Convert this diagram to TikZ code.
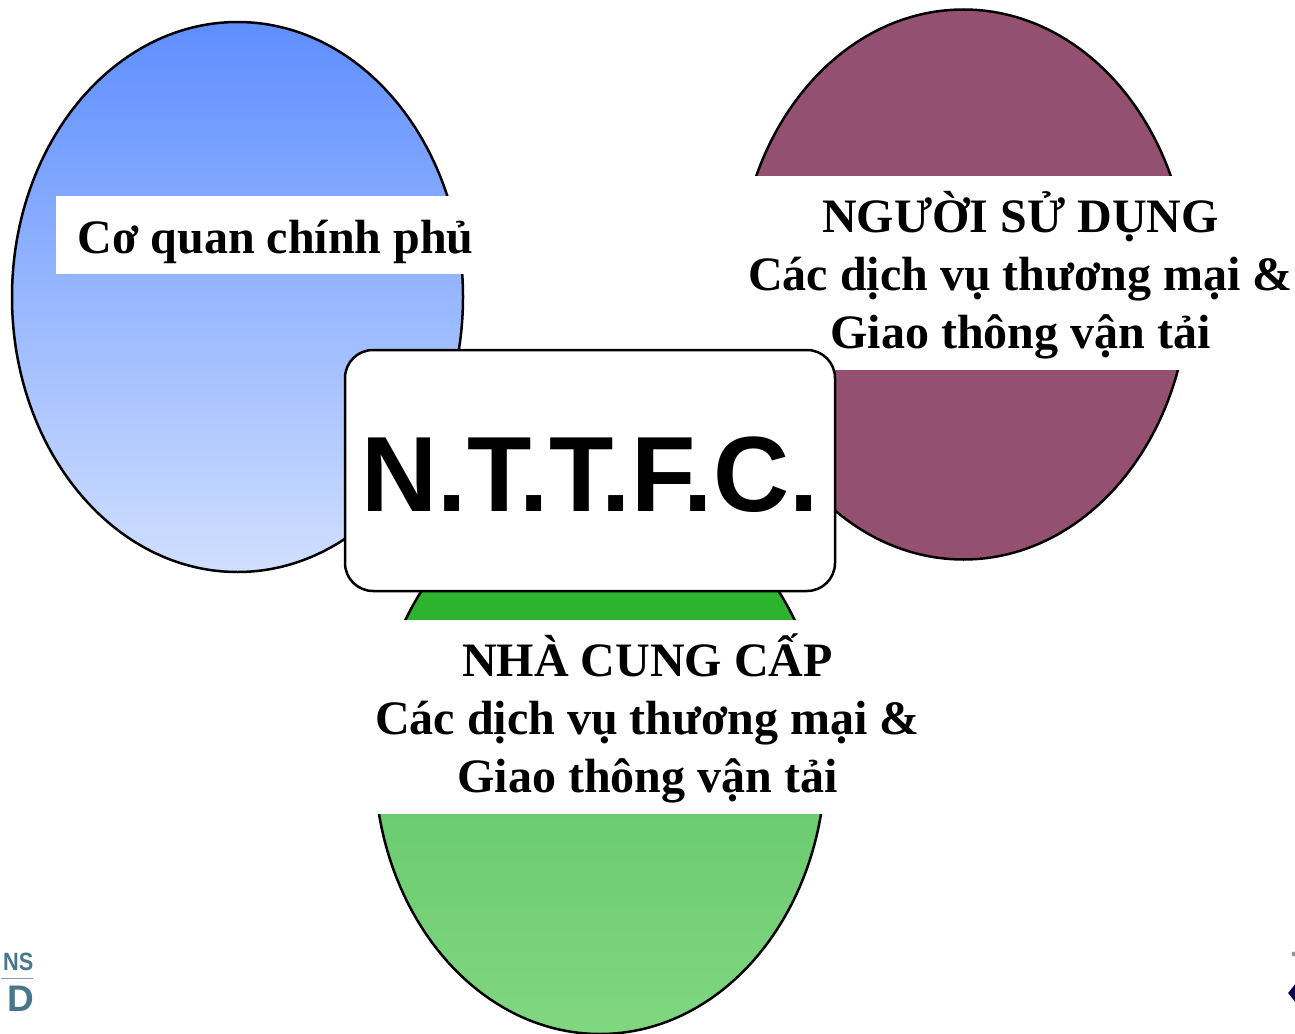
\documentclass[tikz,border=0pt]{standalone}
\usepackage{fontspec}
\usepackage{xcolor}
\setmainfont{Liberation Serif}
\setsansfont{Liberation Sans}
\usetikzlibrary{shapes.geometric}
\definecolor{colorB}{RGB}{148,80,112}
\definecolor{colorL}{RGB}{72,118,138}
\definecolor{colorGa}{RGB}{45,179,45}
\definecolor{colorGb}{RGB}{108,203,112}
\definecolor{colorGc}{RGB}{128,215,128}
\pgfdeclareverticalshading{greenfade}{100bp}{color(0bp)=(colorGc); color(25bp)=(colorGc); color(45bp)=(colorGb); color(63bp)=(colorGa); color(100bp)=(colorGa)}
\tikzset{
	party/.style={ellipse, draw=black, line width=2.5pt, inner sep=0pt, minimum width=451pt, minimum height=550pt},
	partylabel/.style={inner sep=0pt, align=center, font=\bfseries\fontsize{48}{58}\selectfont},
	logotext/.style={inner sep=0pt, colorL},
}
\begin{document}
\begin{tikzpicture}[x=1pt,y=-1pt]
		\useasboundingbox (0,0) rectangle (1295,1033);
		\node[party, top color={rgb,255:red,94;green,142;blue,255}, middle color={rgb,255:red,163;green,188;blue,255}, bottom color={rgb,255:red,208;green,223;blue,255}] (gov) at (237.5,297) {};
		\node[party, fill=colorB] (user) at (963.5,284.5) {};
		\node[party, shading=greenfade] (supplier) at (600,759) {};
		%
		\fill[white] (56,196) rectangle (493,274);
		\fill[white] (728,176) rectangle (1295,370);
		\fill[white] (367,620) rectangle (927,814);
		%
		\node[partylabel] (govlabel) at (275.5,242) {Cơ quan chính phủ};
		\node[partylabel] (userlabel) at (1020.5,275) {NGƯỜI SỬ DỤNG\\Các dịch vụ thương mại \&\\Giao thông vận tải};
		\node[partylabel] (supplierlabel) at (647.5,718.5) {NHÀ CUNG CẤP\\Các dịch vụ thương mại \&\\Giao thông vận tải};
		%
		\node[draw=black, fill=white, line width=2.5pt, rounded corners=28pt, minimum width=490pt, minimum height=241pt, inner sep=0pt] (nttfc) at (590,470.5) {};
		\node[inner sep=0pt, font=\sffamily\bfseries\fontsize{107}{120}\selectfont] (nttfctext) at (590,475) {\scalebox{0.985}[1]{N.T.T.F.C.}};
		%
		\node[logotext, anchor=east, font=\sffamily\bfseries\fontsize{25}{25}\selectfont] (logons) at (33.5,962) {\scalebox{0.87}[1]{NS}};
		\node[logotext, anchor=east, font=\sffamily\bfseries\fontsize{37}{37}\selectfont] (logod) at (34,998.5) {D};
		\coordinate (rulestart) at (1,978);
		\coordinate (ruleend) at (33,978);
		\draw[colorL!70, line width=1pt] (rulestart) -- (ruleend);
		\node[diamond, fill=black!70!blue, minimum width=16pt, minimum height=20pt, inner sep=0pt] (logomark) at (1296,993) {};
		\node[circle, fill=black!40, minimum size=5pt, inner sep=0pt] (logodot) at (1294,954) {};
	\end{tikzpicture}
\end{document}
